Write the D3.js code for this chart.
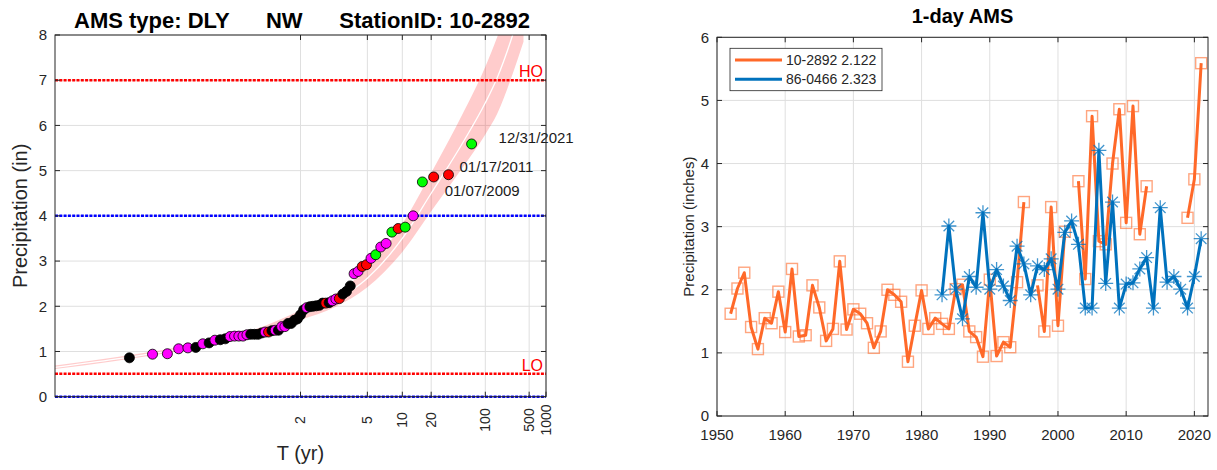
<!DOCTYPE html>
<html>
<head>
<meta charset="utf-8">
<script src="https://cdn.jsdelivr.net/npm/d3@7"></script>
<style>
  body { margin: 0; background: #fff; }
  text { font-family: "Liberation Sans", Arial, Helvetica, sans-serif; fill: #262626; }
</style>
</head>
<body>
<script>
// ---------------- data ----------------
const leftTitle = "AMS type: DLY      NW      StationID: 10-2892";
const rightTitle = "1-day AMS";

// annual maxima, station 10-2892, 1952..2021 (null = missing year)
const years1 = d3.range(1952, 2022);
const precip1 = [
  1.62, 2.02, 2.27, 1.41, 1.06, 1.55, 1.47, 1.97, 1.33, 2.33,
  1.26, 1.28, 2.07, 1.72, 1.19, 1.38, 2.45, 1.37, 1.69, 1.62,
  1.47, 1.08, 1.34, 2.00, 1.92, 1.81, 0.86, 1.43, 1.99, 1.38,
  1.55, 1.46, 1.38, 2.01, 2.08, 1.34, 1.25, 0.94, 2.16, 0.95,
  1.17, 1.09, 2.12, 3.39, null, 2.07, 1.34, 3.31, 1.43, 2.92,
  null, 3.72, 2.17, 4.75, 2.77, 2.72, 4.00, 4.86, 3.06, 4.91,
  2.88, 3.64, null, null, null, null, null, 3.14, 3.75, 5.59
];

// annual maxima, station 86-0466, 1983..2021
const years2 = d3.range(1983, 2022);
const precip2 = [
  1.92, 3.01, 2.01, 1.54, 2.21, 2.04, 3.22, 2.01, 2.32, 2.06,
  1.83, 2.69, 2.41, 1.92, 2.38, 2.32, 2.49, 2.01, 2.91, 3.09,
  2.72, 1.71, 1.71, 4.21, 2.10, 3.39, 1.71, 2.09, 2.11, 2.33,
  2.51, 1.71, 3.30, 2.12, 2.21, 2.01, 1.71, 2.21, 2.81
];

const legendLabels = ["10-2892 2.122", "86-0466 2.323"];

// marker colour of each ranked value (ascending), k/m/r/g
const rankColors = [
  "k","m","m","m","m","k","m","k","m","k",
  "k","m","m","m","m","m","k","k","k","k",
  "m","r","k","m","k","m","m","k","k","k",
  "k","k","k","m","k","k","k","k","k","r",
  "k","m","m","r","k","k","k","m","m","r",
  "r","m","g","m","m","g","r","g","m","g",
  "r","r","g"
];
const colorMap = { k: "#000000", m: "#ff00ff", r: "#ff0000", g: "#00ff00" };

const eventRanks = [63, 62, 61];
const eventLabels = ["12/31/2021", "01/17/2011", "01/07/2009"];

// fitted frequency curve with confidence band
const bandT   = [1.001, 1.01, 1.1, 1.5, 2, 3, 5, 10, 20, 50, 100, 150, 250, 400];
const bandFit = [0.65, 0.83, 1.12, 1.50, 1.80, 2.12, 2.62, 3.50, 4.50, 5.65, 6.50, 7.05, 7.90, 8.80];
const bandLo  = [0.61, 0.79, 1.07, 1.43, 1.70, 1.98, 2.42, 3.20, 4.10, 5.10, 5.80, 6.25, 7.05, 7.85];
const bandHi  = [0.69, 0.87, 1.17, 1.58, 1.91, 2.27, 2.84, 3.82, 4.95, 6.30, 7.30, 7.95, 8.90, 10.0];

const thresholds = [
  { v: 7.0, c: "#ff0000", label: "HO" },
  { v: 4.0, c: "#0000ff", label: "" },
  { v: 0.51, c: "#ff0000", label: "LO" },
  { v: 0.0, c: "#0000ff", label: "" }
];

const tTicks = [2, 5, 10, 20, 100, 500, 1000];
const yTicksL = d3.range(0, 9);
const xTicksR = d3.range(1950, 2030, 10);
const yTicksR = d3.range(0, 7);

// inverse standard normal cdf (Acklam)
function qnorm(p) {
  const a = [-3.969683028665376e+01, 2.209460984245205e+02, -2.759285104469687e+02, 1.383577518672690e+02, -3.066479806614716e+01, 2.506628277459239e+00];
  const b = [-5.447609879822406e+01, 1.615858368580409e+02, -1.556989798598866e+02, 6.680131188771972e+01, -1.328068155288572e+01];
  const c = [-7.784894002430293e-03, -3.223964580411365e-01, -2.400758277161838e+00, -2.549732539343734e+00, 4.374664141464968e+00, 2.938163982698783e+00];
  const d = [7.784695709041462e-03, 3.224671290700398e-01, 2.445134137142996e+00, 3.754408661907416e+00];
  const pl = 0.02425;
  let q, r;
  if (p < pl) {
    q = Math.sqrt(-2 * Math.log(p));
    return (((((c[0]*q+c[1])*q+c[2])*q+c[3])*q+c[4])*q+c[5]) / ((((d[0]*q+d[1])*q+d[2])*q+d[3])*q+1);
  }
  if (p <= 1 - pl) {
    q = p - 0.5; r = q * q;
    return (((((a[0]*r+a[1])*r+a[2])*r+a[3])*r+a[4])*r+a[5])*q / (((((b[0]*r+b[1])*r+b[2])*r+b[3])*r+b[4])*r+1);
  }
  q = Math.sqrt(-2 * Math.log(1 - p));
  return -(((((c[0]*q+c[1])*q+c[2])*q+c[3])*q+c[4])*q+c[5]) / ((((d[0]*q+d[1])*q+d[2])*q+d[3])*q+1);
}
const tToZ = T => qnorm(1 - 1 / T);

// ---------------- svg ----------------
const svg = d3.select("body").append("svg")
  .attr("width", 1217).attr("height", 470);

const gridColor = "#dfdfdf";
const axisColor = "#262626";

// ======== left: frequency plot ========
const L = { x0: 55, x1: 546, y0: 35, y1: 396.7 };
const zScale = d3.scaleLinear().domain([tToZ(1.001), tToZ(1000)]).range([L.x0, L.x1]);
const xT = T => zScale(tToZ(T));
const yL = d3.scaleLinear().domain([0, 8]).range([L.y1, L.y0]);

svg.append("defs").append("clipPath").attr("id", "clipL")
  .append("rect").attr("x", L.x0).attr("y", L.y0)
  .attr("width", L.x1 - L.x0).attr("height", L.y1 - L.y0);

const gl = svg.append("g");

gl.selectAll(".vgrid").data(tTicks).enter().append("line")
  .attr("x1", d => xT(d)).attr("x2", d => xT(d))
  .attr("y1", L.y0).attr("y2", L.y1)
  .attr("stroke", gridColor).attr("stroke-width", 1);
gl.selectAll(".hgrid").data(yTicksL).enter().append("line")
  .attr("x1", L.x0).attr("x2", L.x1)
  .attr("y1", d => yL(d)).attr("y2", d => yL(d))
  .attr("stroke", gridColor).attr("stroke-width", 1);

// confidence band + fit
const band = bandT.map((T, i) => ({ T: T, fit: bandFit[i], lo: bandLo[i], hi: bandHi[i] }));
const bandG = gl.append("g").attr("clip-path", "url(#clipL)");
bandG.append("path")
  .datum(band)
  .attr("d", d3.area()
    .x(d => xT(d.T)).y0(d => yL(d.lo)).y1(d => yL(d.hi))
    .curve(d3.curveMonotoneX))
  .attr("fill", "#ff0000").attr("fill-opacity", 0.2);
bandG.append("path")
  .datum(band)
  .attr("d", d3.line().x(d => xT(d.T)).y(d => yL(d.fit)).curve(d3.curveMonotoneX))
  .attr("fill", "none").attr("stroke", "#fff").attr("stroke-width", 1.3);

// threshold lines
gl.selectAll(".thr").data(thresholds).enter().append("line")
  .attr("x1", L.x0).attr("x2", L.x1)
  .attr("y1", d => yL(d.v)).attr("y2", d => yL(d.v))
  .attr("stroke", d => d.c).attr("stroke-width", 2.5)
  .attr("stroke-dasharray", "3,1.3");
gl.selectAll(".thrlab").data(thresholds.filter(d => d.label)).enter().append("text")
  .attr("x", L.x1 - 3).attr("y", d => yL(d.v) - 3)
  .attr("text-anchor", "end")
  .style("font-size", "16px")
  .style("fill", "#ff0000")
  .text(d => d.label);

// ranked points (Weibull plotting position)
const sorted = d3.sort(precip1.filter(v => v != null), (a, b) => a - b);
const n = sorted.length;
const pts = sorted.map((v, i) => ({
  v: v,
  z: qnorm((i + 1) / (n + 1)),
  c: colorMap[rankColors[i]],
  rank: i + 1
}));

gl.selectAll(".pt").data(pts).enter().append("circle")
  .attr("cx", d => zScale(d.z)).attr("cy", d => yL(d.v))
  .attr("r", 5)
  .attr("fill", d => d.c)
  .attr("stroke", "#000").attr("stroke-width", 0.8);

const labelOffsets = { 63: [27, -1], 62: [11, -3], 61: [11, 19] };
gl.selectAll(".evt").data(eventRanks).enter().append("text")
  .attr("x", d => zScale(pts[d - 1].z) + labelOffsets[d][0])
  .attr("y", d => yL(pts[d - 1].v) + labelOffsets[d][1])
  .style("font-size", "15px")
  .style("fill", "#1a1a1a")
  .text((d, i) => eventLabels[i]);

// box & ticks
gl.append("rect").attr("x", L.x0).attr("y", L.y0)
  .attr("width", L.x1 - L.x0).attr("height", L.y1 - L.y0)
  .attr("fill", "none").attr("stroke", axisColor).attr("stroke-width", 1);
gl.selectAll(".ytk").data(yTicksL).enter().append("path")
  .attr("d", d => `M${L.x0},${yL(d)}h5M${L.x1},${yL(d)}h-5`)
  .attr("stroke", axisColor);
gl.selectAll(".xtk").data(tTicks).enter().append("path")
  .attr("d", d => `M${xT(d)},${L.y1}v-5M${xT(d)},${L.y0}v5`)
  .attr("stroke", axisColor);
gl.selectAll(".ylab").data(yTicksL).enter().append("text")
  .attr("x", L.x0 - 8).attr("y", d => yL(d)).attr("dy", "0.35em")
  .attr("text-anchor", "end").style("font-size", "15px")
  .text(d => d);
gl.selectAll(".xlab").data(tTicks).enter().append("text")
  .attr("transform", d => `translate(${xT(d)},420) rotate(-90)`)
  .attr("dy", "0.35em").attr("text-anchor", "middle")
  .style("font-size", "14px")
  .text(d => d);

gl.append("text")
  .attr("transform", `translate(27,${(L.y0 + L.y1) / 2}) rotate(-90)`)
  .attr("text-anchor", "middle").style("font-size", "20px")
  .text("Precipitation (in)");
gl.append("text")
  .attr("x", (L.x0 + L.x1) / 2).attr("y", 460)
  .attr("text-anchor", "middle").style("font-size", "20px")
  .text("T (yr)");
gl.append("text")
  .attr("x", 302).attr("y", 28)
  .attr("text-anchor", "middle")
  .style("font-size", "22px").style("font-weight", "bold")
  .style("white-space", "pre").attr("xml:space", "preserve")
  .style("fill", "#000")
  .text(leftTitle);

// ======== right: time series ========
const R = { x0: 717, x1: 1208, y0: 37.3, y1: 416 };
const xR = d3.scaleLinear().domain([1950, 2022]).range([R.x0, R.x1]);
const yR = d3.scaleLinear().domain([0, 6]).range([R.y1, R.y0]);

const gr = svg.append("g");
gr.selectAll(".vgrid").data(xTicksR).enter().append("line")
  .attr("x1", d => xR(d)).attr("x2", d => xR(d))
  .attr("y1", R.y0).attr("y2", R.y1)
  .attr("stroke", gridColor);
gr.selectAll(".hgrid").data(yTicksR).enter().append("line")
  .attr("x1", R.x0).attr("x2", R.x1)
  .attr("y1", d => yR(d)).attr("y2", d => yR(d))
  .attr("stroke", gridColor);

const orange = "#ff6929";
const blue = "#0072bd";

const s1 = years1.map((y, i) => ({ y: y, v: precip1[i] }));
const s2 = years2.map((y, i) => ({ y: y, v: precip2[i] }));
const line = d3.line().defined(d => d.v != null).x(d => xR(d.y)).y(d => yR(d.v));

gr.append("path").datum(s1).attr("d", line)
  .attr("fill", "none").attr("stroke", orange).attr("stroke-width", 3)
  .attr("stroke-linejoin", "round");
gr.selectAll(".sq").data(s1.filter(d => d.v != null)).enter().append("rect")
  .attr("x", d => xR(d.y) - 5.5).attr("y", d => yR(d.v) - 5.5)
  .attr("width", 11).attr("height", 11)
  .attr("fill", "none").attr("stroke", orange).attr("stroke-opacity", 0.6)
  .attr("stroke-width", 1.4);

gr.append("path").datum(s2).attr("d", line)
  .attr("fill", "none").attr("stroke", blue).attr("stroke-width", 3)
  .attr("stroke-linejoin", "round");
const star = "M-7.5,0H7.5M0,-7.5V7.5M-5.3,-5.3L5.3,5.3M-5.3,5.3L5.3,-5.3";
gr.selectAll(".st").data(s2).enter().append("path")
  .attr("transform", d => `translate(${xR(d.y)},${yR(d.v)})`)
  .attr("d", star)
  .attr("stroke", blue).attr("stroke-opacity", 0.75).attr("stroke-width", 1.3);

gr.append("rect").attr("x", R.x0).attr("y", R.y0)
  .attr("width", R.x1 - R.x0).attr("height", R.y1 - R.y0)
  .attr("fill", "none").attr("stroke", axisColor);
gr.selectAll(".ytk").data(yTicksR).enter().append("path")
  .attr("d", d => `M${R.x0},${yR(d)}h5M${R.x1},${yR(d)}h-5`)
  .attr("stroke", axisColor);
gr.selectAll(".xtk").data(xTicksR).enter().append("path")
  .attr("d", d => `M${xR(d)},${R.y1}v-5M${xR(d)},${R.y0}v5`)
  .attr("stroke", axisColor);
gr.selectAll(".ylab").data(yTicksR).enter().append("text")
  .attr("x", R.x0 - 8).attr("y", d => yR(d)).attr("dy", "0.35em")
  .attr("text-anchor", "end").style("font-size", "15px")
  .text(d => d);
gr.selectAll(".xlab").data(xTicksR).enter().append("text")
  .attr("x", d => xR(d)).attr("y", 440)
  .attr("text-anchor", "middle").style("font-size", "15px")
  .text(d => d);

gr.append("text")
  .attr("transform", `translate(694,${(R.y0 + R.y1) / 2}) rotate(-90)`)
  .attr("text-anchor", "middle").style("font-size", "15px")
  .text("Precipitation (inches)");
gr.append("text")
  .attr("x", (R.x0 + R.x1) / 2).attr("y", 23)
  .attr("text-anchor", "middle")
  .style("font-size", "20px").style("font-weight", "bold")
  .style("fill", "#000")
  .text(rightTitle);

// legend
const lg = gr.append("g");
lg.append("rect").attr("x", 730).attr("y", 48.3).attr("width", 152).attr("height", 42.4)
  .attr("fill", "#fff").attr("stroke", axisColor).attr("stroke-width", 0.8);
[orange, blue].forEach((c, i) => {
  const yy = 60 + i * 19.3;
  lg.append("line").attr("x1", 735).attr("x2", 782).attr("y1", yy).attr("y2", yy)
    .attr("stroke", c).attr("stroke-width", 3);
  lg.append("text").attr("x", 786).attr("y", yy).attr("dy", "0.35em")
    .style("font-size", "14px").text(legendLabels[i]);
});
</script>
</body>
</html>
